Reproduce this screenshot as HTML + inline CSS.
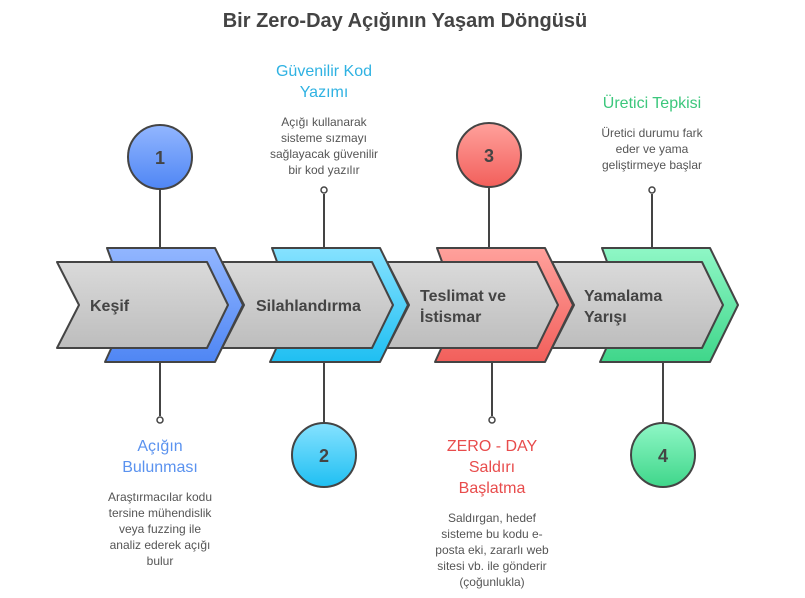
<!DOCTYPE html>
<html><head><meta charset="utf-8"><style>body{margin:0;background:#fff}svg{display:block}text{font-family:"Liberation Sans",sans-serif}</style></head><body>
<svg width="805" height="598" viewBox="0 0 805 598" xmlns="http://www.w3.org/2000/svg">
<defs>
<linearGradient id="gr" x1="0" y1="0" x2="0" y2="1"><stop offset="0" stop-color="#dadada"/><stop offset="1" stop-color="#bdbdbd"/></linearGradient>
<linearGradient id="c1" x1="0" y1="0" x2="0" y2="1"><stop offset="0" stop-color="#92b6ff"/><stop offset="1" stop-color="#4f86f4"/></linearGradient>
<linearGradient id="c2" x1="0" y1="0" x2="0" y2="1"><stop offset="0" stop-color="#86e2ff"/><stop offset="1" stop-color="#1fbff2"/></linearGradient>
<linearGradient id="c3" x1="0" y1="0" x2="0" y2="1"><stop offset="0" stop-color="#ffa19c"/><stop offset="1" stop-color="#f25f5b"/></linearGradient>
<linearGradient id="c4" x1="0" y1="0" x2="0" y2="1"><stop offset="0" stop-color="#8ff7c6"/><stop offset="1" stop-color="#3fd68a"/></linearGradient>
<g id="col"><path d="M107,248 L215,248 L243,305 L215,362 L105,362 L115,340 L115,270 Z" stroke="#444" stroke-width="2" stroke-linejoin="round"/></g>
<g id="grey"><path d="M57,262 L207,262 L228,305 L207,348 L57,348 L79,305 Z" fill="url(#gr)" stroke="#444" stroke-width="2" stroke-linejoin="round"/></g>
</defs>
<text x="405" y="27" text-anchor="middle" font-size="20" font-weight="bold" fill="#444">Bir Zero-Day Açığının Yaşam Döngüsü</text>
<g stroke="#444" stroke-width="2">
<line x1="160" y1="188" x2="160" y2="250"/><line x1="324" y1="194" x2="324" y2="250"/>
<line x1="489" y1="188" x2="489" y2="250"/><line x1="652" y1="194" x2="652" y2="250"/>
<line x1="160" y1="360" x2="160" y2="416"/><line x1="324" y1="360" x2="324" y2="424"/>
<line x1="492" y1="360" x2="492" y2="416"/><line x1="663" y1="360" x2="663" y2="424"/>
</g>
<g transform="translate(495,0)"><use href="#col" fill="url(#c4)"/><use href="#grey"/></g>
<g transform="translate(330,0)"><use href="#col" fill="url(#c3)"/><use href="#grey"/></g>
<g transform="translate(165,0)"><use href="#col" fill="url(#c2)"/><use href="#grey"/></g>
<g><use href="#col" fill="url(#c1)"/><use href="#grey"/></g>
<g font-size="16" font-weight="bold" fill="#444">
<text x="90" y="311">Keşif</text>
<text x="256" y="311">Silahlandırma</text>
<text x="420" y="301">Teslimat ve</text><text x="420" y="322">İstismar</text>
<text x="584" y="301">Yamalama</text><text x="584" y="322">Yarışı</text>
</g>
<g stroke="#444" stroke-width="2">
<circle cx="160" cy="157" r="32" fill="url(#c1)"/><circle cx="324" cy="455" r="32" fill="url(#c2)"/>
<circle cx="489" cy="155" r="32" fill="url(#c3)"/><circle cx="663" cy="455" r="32" fill="url(#c4)"/>
<g fill="#fff" stroke-width="1.5"><circle cx="324" cy="190" r="3"/><circle cx="652" cy="190" r="3"/><circle cx="160" cy="420" r="3"/><circle cx="492" cy="420" r="3"/></g>
</g>
<g font-size="18" font-weight="bold" fill="#444" text-anchor="middle">
<text x="160" y="164">1</text><text x="324" y="462">2</text><text x="489" y="162">3</text><text x="663" y="462">4</text>
</g>
<g font-size="16" text-anchor="middle">
<text x="324" y="76" fill="#2fb2e2">Güvenilir Kod</text><text x="324" y="97" fill="#2fb2e2">Yazımı</text>
<text x="652" y="108" fill="#3cc77c">Üretici Tepkisi</text>
<text x="160" y="451" fill="#5a92ef">Açığın</text><text x="160" y="472" fill="#5a92ef">Bulunması</text>
<text x="492" y="451" fill="#e84c4c">ZERO - DAY</text><text x="492" y="472" fill="#e84c4c">Saldırı</text><text x="492" y="493" fill="#e84c4c">Başlatma</text>
</g>
<g font-size="12" fill="#555" text-anchor="middle">
<text x="324" y="126">Açığı kullanarak</text><text x="324" y="142">sisteme sızmayı</text><text x="324" y="158">sağlayacak güvenilir</text><text x="324" y="174">bir kod yazılır</text>
<text x="652" y="137">Üretici durumu fark</text><text x="652" y="153">eder ve yama</text><text x="652" y="169">geliştirmeye başlar</text>
<text x="160" y="501">Araştırmacılar kodu</text><text x="160" y="517">tersine mühendislik</text><text x="160" y="533">veya fuzzing ile</text><text x="160" y="549">analiz ederek açığı</text><text x="160" y="565">bulur</text>
<text x="492" y="522">Saldırgan, hedef</text><text x="492" y="538">sisteme bu kodu e-</text><text x="492" y="554">posta eki, zararlı web</text><text x="492" y="570">sitesi vb. ile gönderir</text><text x="492" y="586">(çoğunlukla)</text>
</g>
</svg>
</body></html>
